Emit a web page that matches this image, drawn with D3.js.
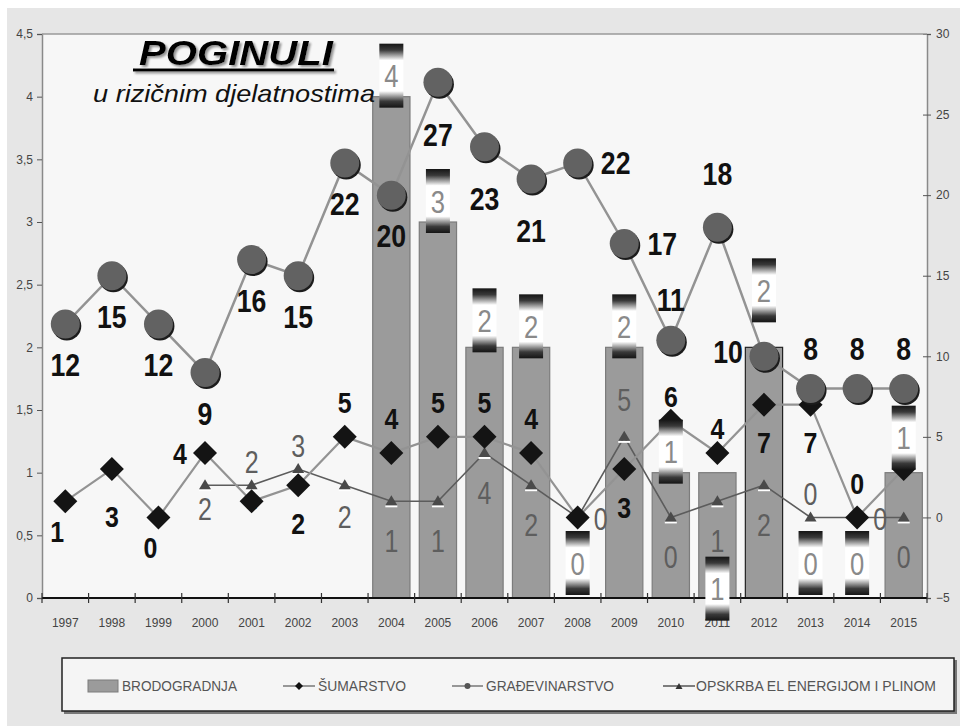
<!DOCTYPE html>
<html><head><meta charset="utf-8">
<script src="https://cdn.jsdelivr.net/npm/d3@7"></script>
<style>body{margin:0;background:#fff;} svg{display:block;}</style>
</head><body>
<svg id="c" width="960" height="726"></svg>
<script>
// ---------- DATA ----------
const years = ["1997","1998","1999","2000","2001","2002","2003","2004","2005","2006","2007","2008","2009","2010","2011","2012","2013","2014","2015"];
const brodogradnja    = [null,null,null,null,null,null,null,4,3,2,2,0,2,1,1,2,0,0,1];
const sumarstvo       = [1,3,0,4,1,2,5,4,5,5,4,0,3,6,4,7,7,0,3];
const gradjevinarstvo = [12,15,12,9,16,15,22,20,27,23,21,22,17,11,18,10,8,8,8];
const opskrba         = [null,null,null,2,2,3,2,1,1,4,2,0,5,0,1,2,0,0,0];
const leftTicks  = [0,0.5,1,1.5,2,2.5,3,3.5,4,4.5];
const rightTicks = [-5,0,5,10,15,20,25,30];
const seriesNames = ["BRODOGRADNJA","ŠUMARSTVO","GRAĐEVINARSTVO","OPSKRBA EL ENERGIJOM I PLINOM"];
const titleText = "POGINULI";
const subtitleText = "u rizičnim djelatnostima";

// ---------- LABEL PLACEMENT (layout only) ----------
const circlePos  = ["b","b","b","b","b","b","b","b","B","B","B","r","r","a","A","l","a","a","a"];
const circleOff  = {b:[0,41],B:[0,52],a:[0,-40],A:[0,-54],l:[-36,-4],r:[38,0]};
const diamondPos = ["bl","B","bl","l","c","b","a","a","a","a","a","c","b","a2","a2","b","b","a","c"];
const diamondOff = {b:[0,38],B:[0,47],a:[0,-34],a2:[0,-24],l:[-25,1],bl:[-8,30],c:[0,0]};
const triPos     = [null,null,null,"b1","a1","a1","b2","b","b","b","b","r","a","b","b","b","a1","r","b"];
const triOff     = {b1:[0,23],b2:[0,31],b:[0,39],a1:[0,-24],a:[0,-37],r:[23,1]};
const barLblPos  = [null,null,null,null,null,null,null,"n","n","n2","n","z","n","n","low","high","z","z","z"];
const barLblOff  = {n:-21,n2:-27,z:-35,low:116,high:-57};

// ---------- SETUP ----------
const FONT = "'Liberation Sans', Arial, sans-serif";
const svg = d3.select("#c");
const W = 960, H = 726;
const M = {l:42, r:927, t:34, b:598};

svg.append("rect").attr("x",7).attr("y",8).attr("width",W-7).attr("height",H-8).attr("fill","#e6e6e6");
svg.append("rect").attr("x",M.l).attr("y",M.t).attr("width",M.r-M.l).attr("height",M.b-M.t).attr("fill","#f7f7f7");

const x = d3.scaleBand().domain(years).range([M.l, M.r]).padding(0);
const yL = d3.scaleLinear().domain([0,4.5]).range([M.b, M.t]);
const yR = d3.scaleLinear().domain([-5,30]).range([M.b, M.t]);
const cx = i => x(years[i]) + x.bandwidth()/2;

const defs = svg.append("defs");
const grad = defs.append("linearGradient").attr("id","boxg").attr("x1",0).attr("y1",0).attr("x2",0).attr("y2",1);
[[0,"#151515"],[0.1,"#3a3a3a"],[0.26,"#ffffff"],[0.74,"#ffffff"],[0.9,"#3a3a3a"],[1,"#151515"]]
  .forEach(([o,c]) => grad.append("stop").attr("offset",o).attr("stop-color",c));
const sh = defs.append("filter").attr("id","tsh").attr("x","-10%").attr("y","-20%").attr("width","130%").attr("height","150%");
sh.append("feDropShadow").attr("dx",2).attr("dy",2).attr("stdDeviation",1).attr("flood-color","#888").attr("flood-opacity",0.9);

function label(g, px, py, txt, o) {
  const t = g.append("g").attr("transform", `translate(${px},${py}) scale(${o.sx||1},1)`);
  t.append("text").attr("text-anchor","middle").attr("dy","0.36em")
    .attr("font-family",FONT).attr("font-size",o.size).attr("font-weight",o.weight||"normal")
    .attr("fill",o.fill).text(txt);
}

// ---------- AXES ----------
const axL = svg.append("g").attr("transform",`translate(${M.l},0)`)
  .call(d3.axisLeft(yL).tickValues(leftTicks).tickSize(5).tickPadding(4)
    .tickFormat(d => String(d).replace(".",",")));
const axR = svg.append("g").attr("transform",`translate(${M.r},0)`)
  .call(d3.axisRight(yR).tickValues(rightTicks).tickSize(4).tickPadding(5));
[axL, axR].forEach(a => {
  a.select(".domain").attr("stroke","#8a8a8a").attr("stroke-width",1.5);
  a.selectAll(".tick line").attr("stroke","#555");
  a.selectAll(".tick text").attr("font-family",FONT).attr("font-size",12).attr("fill","#444");
});
axR.selectAll(".tick").append("line").attr("x1",-4).attr("x2",0).attr("stroke","#555");
svg.append("line").attr("x1",M.l).attr("x2",M.r).attr("y1",M.t).attr("y2",M.t).attr("stroke","#9a9a9a").attr("stroke-width",1.5);

const axB = svg.append("g").attr("transform",`translate(0,${M.b})`)
  .call(d3.axisBottom(x).tickSize(0).tickPadding(20));
axB.select(".domain").remove();
axB.selectAll(".tick text").attr("font-family",FONT).attr("font-size",12).attr("fill","#444");

// ---------- BARS ----------
const bw = x.bandwidth()*0.8;
const barG = svg.append("g");
brodogradnja.forEach((v,i) => {
  if (v === null || v === 0) return;
  barG.append("rect").attr("x",cx(i)-bw/2).attr("y",yL(v)).attr("width",bw).attr("height",yL(0)-yL(v))
    .attr("fill","#9b9b9b").attr("stroke",i===15?"#222":"#7c7c7c").attr("stroke-width",1.2);
});

// bottom axis line and boundary ticks (over bars)
svg.append("line").attr("x1",M.l).attr("x2",M.r).attr("y1",M.b).attr("y2",M.b).attr("stroke","#111").attr("stroke-width",2);
years.concat(["end"]).forEach((yr,i) => {
  const bx = i < years.length ? x(yr) : M.r;
  svg.append("line").attr("x1",bx).attr("x2",bx).attr("y1",M.b-5).attr("y2",M.b+5).attr("stroke","#333").attr("stroke-width",1.2);
});

// ---------- LINES ----------
const lineR = d3.line().defined(d => d.v !== null).x(d => cx(d.i)).y(d => yR(d.v));
const pts = arr => arr.map((v,i) => ({v,i}));

svg.append("path").datum(pts(opskrba)).attr("d",lineR).attr("fill","none").attr("stroke","#5c5c5c").attr("stroke-width",1.6);
svg.append("path").datum(pts(sumarstvo)).attr("d",lineR).attr("fill","none").attr("stroke","#939393").attr("stroke-width",2.2);
svg.append("path").datum(pts(gradjevinarstvo)).attr("d",lineR).attr("fill","none").attr("stroke","#939393").attr("stroke-width",2.5);

// hidden (centred) diamond labels sit underneath their markers
const underG = svg.append("g");
sumarstvo.forEach((v,i) => {
  if (diamondPos[i] !== "c") return;
  label(underG, cx(i), yR(v), v, {size:22, sx:0.86, weight:"bold", fill:"#111"});
});

// triangles
const triG = svg.append("g");
opskrba.forEach((v,i) => {
  if (v === null) return;
  const px = cx(i), py = yR(v);
  triG.append("line").attr("x1",px-6).attr("x2",px+6).attr("y1",py+5).attr("y2",py+5).attr("stroke","#fff").attr("stroke-width",2);
  triG.append("path").attr("d",`M${px},${py-6}L${px+6},${py+4}L${px-6},${py+4}Z`).attr("fill","#4a4a4a");
});
// diamonds
const diaG = svg.append("g");
sumarstvo.forEach((v,i) => {
  const px = cx(i), py = yR(v), s = 12;
  diaG.append("path").attr("d",`M${px},${py-s}L${px+s},${py}L${px},${py+s}L${px-s},${py}Z`).attr("fill","#141414");
});
// circles
const cirG = svg.append("g");
gradjevinarstvo.forEach((v,i) => {
  const px = cx(i), py = yR(v);
  cirG.append("circle").attr("cx",px+1.5).attr("cy",py+2).attr("r",14.5).attr("fill","#1c1c1c");
  cirG.append("circle").attr("cx",px).attr("cy",py).attr("r",14.5).attr("fill","#626262");
});

// ---------- LINE LABELS ----------
const lblG = svg.append("g");
opskrba.forEach((v,i) => {
  if (v === null) return;
  const o = triOff[triPos[i]];
  label(lblG, cx(i)+o[0], yR(v)+o[1], v, {size:32, sx:0.78, fill:"#5e5e5e"});
});
sumarstvo.forEach((v,i) => {
  if (diamondPos[i] === "c") return;
  const o = diamondOff[diamondPos[i]];
  label(lblG, cx(i)+o[0], yR(v)+o[1], v, {size:29, sx:0.86, weight:"bold", fill:"#111"});
});
gradjevinarstvo.forEach((v,i) => {
  const o = circleOff[circlePos[i]];
  label(lblG, cx(i)+o[0], yR(v)+o[1], v, {size:31, sx:0.86, weight:"bold", fill:"#111"});
});

// ---------- BAR LABELS ----------
const blG = svg.append("g");
brodogradnja.forEach((v,i) => {
  if (v === null) return;
  const cy = yL(v) + barLblOff[barLblPos[i]];
  blG.append("rect").attr("x",cx(i)-12).attr("y",cy-32).attr("width",24).attr("height",64).attr("fill","url(#boxg)");
  label(blG, cx(i), cy, v, {size:32, sx:0.8, fill:"#8a8a8a"});
});

// ---------- TITLE ----------
const tg = svg.append("g").attr("filter","url(#tsh)");
tg.append("text").attr("x",236).attr("y",65).attr("text-anchor","middle").attr("font-family",FONT)
  .attr("font-size",35).attr("font-weight","bold").attr("font-style","italic").attr("fill","#000")
  .attr("textLength",194).attr("lengthAdjust","spacingAndGlyphs").text(titleText);
tg.append("line").attr("x1",133).attr("x2",334).attr("y1",70).attr("y2",70).attr("stroke","#000").attr("stroke-width",3);
svg.append("text").attr("x",93).attr("y",102).attr("font-family",FONT)
  .attr("font-size",24).attr("font-style","italic").attr("fill","#111")
  .attr("textLength",282).attr("lengthAdjust","spacingAndGlyphs").text(subtitleText);

// ---------- LEGEND ----------
const lg = svg.append("g");
lg.append("rect").attr("x",64).attr("y",660).attr("width",893).attr("height",54).attr("fill","#777");
lg.append("rect").attr("x",62).attr("y",658).attr("width",892).attr("height",53).attr("fill","#f5f5f5").attr("stroke","#222").attr("stroke-width",1.5);
const ly = 686;
lg.append("rect").attr("x",88).attr("y",ly-6).attr("width",30).attr("height",12).attr("fill","#9b9b9b").attr("stroke","#7c7c7c");
const legText = [[122,115],[318,88],[486,128],[696,240]];
seriesNames.forEach((n,k) => {
  lg.append("text").attr("x",legText[k][0]).attr("y",ly+5).attr("font-family",FONT).attr("font-size",15)
    .attr("fill","#555").attr("textLength",legText[k][1]).attr("lengthAdjust","spacingAndGlyphs").text(n);
});
// marker samples
[[283,315,"d"],[452,483,"c"],[663,695,"t"]].forEach(([a,b,m]) => {
  lg.append("line").attr("x1",a).attr("x2",b).attr("y1",ly).attr("y2",ly).attr("stroke",m==="t"?"#555":"#777").attr("stroke-width",1.5);
  const mx = (a+b)/2;
  if (m==="d") lg.append("path").attr("d",`M${mx},${ly-4}L${mx+4},${ly}L${mx},${ly+4}L${mx-4},${ly}Z`).attr("fill","#111");
  if (m==="c") lg.append("circle").attr("cx",mx).attr("cy",ly).attr("r",3).attr("fill","#555");
  if (m==="t") lg.append("path").attr("d",`M${mx},${ly-3}L${mx+3.5},${ly+3}L${mx-3.5},${ly+3}Z`).attr("fill","#333");
});
</script>
</body></html>
